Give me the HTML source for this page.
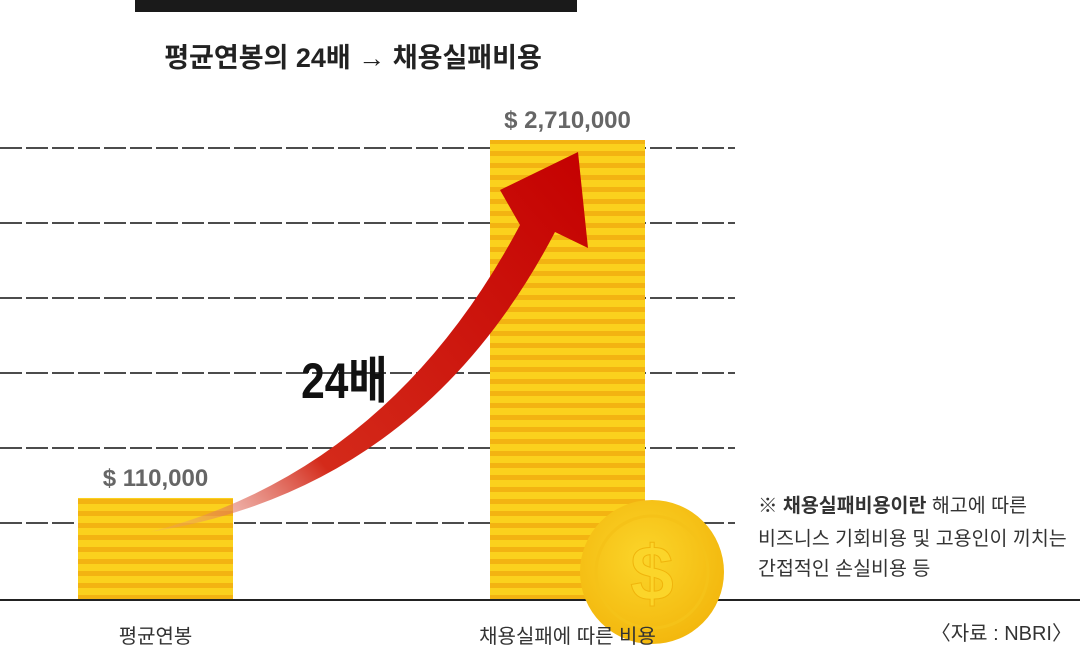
<!DOCTYPE html>
<html><head><meta charset="utf-8"><style>
body{margin:0;width:1080px;height:651px;background:#fff;overflow:hidden;font-family:"Liberation Sans","Noto Sans CJK KR",sans-serif}
svg{display:block}
</style></head><body>
<svg width="1080" height="651" id="c">
<defs>
<pattern id="stripes" width="12" height="12" patternUnits="userSpaceOnUse">
<rect width="12" height="12" fill="#f3b312"/><rect width="12" height="7" fill="#fbd11d"/></pattern>
<linearGradient id="ag" x1="150" y1="530" x2="590" y2="150" gradientUnits="userSpaceOnUse">
<stop offset="0" stop-color="#e8a090" stop-opacity="0.2"/><stop offset="0.3" stop-color="#d42a1a"/><stop offset="1" stop-color="#c40000"/></linearGradient>
<radialGradient id="coin" cx="0.45" cy="0.4" r="0.6"><stop offset="0" stop-color="#fbd52a"/><stop offset="1" stop-color="#f3b80e"/></radialGradient>
</defs>
<rect x="135" y="0" width="442" height="12" fill="#1a1a1a"/>
<text x="353" y="67" text-anchor="middle" font-size="27" font-weight="bold" fill="#222">평균연봉의 24배 → 채용실패비용</text>
<g id="grid"></g>
<g id="bars"></g>
<line x1="0" y1="600" x2="1080" y2="600" stroke="#222" stroke-width="2"/>
<path d="M150,532 Q390,470 520,225 L500,190 L578,152 L588,248 L555,232 Q420,490 150,532 Z" fill="url(#ag)"/>
<text x="345" y="398" text-anchor="middle" font-size="50" font-weight="bold" fill="#111" transform="scale(0.85,1) translate(60,0)">24배</text>
<g>
<circle cx="652" cy="572" r="72" fill="url(#coin)"/>
<circle cx="652" cy="572" r="56" fill="none" stroke="#f5c218" stroke-width="3"/>
<text x="652" y="600" text-anchor="middle" font-size="78" font-weight="bold" fill="#fbd52a" stroke="#f0b40c" stroke-width="1">$</text>
</g>
<g id="cats"></g>
<g font-size="19.5" fill="#333">
<text x="758" y="512"><tspan font-weight="bold">※ 채용실패비용이란</tspan> 해고에 따른</text>
<text x="758" y="545">비즈니스 기회비용 및 고용인이 끼치는</text>
<text x="758" y="575">간접적인 손실비용 등</text>
</g>
<text x="1072" y="640" text-anchor="end" font-size="20" fill="#333">〈자료 : NBRI〉</text>
</svg>
<script>
const categories=["평균연봉","채용실패에 따른 비용"];
const values=[110000,2710000];
const valueLabels=["$ 110,000","$ 2,710,000"];
const ns="http://www.w3.org/2000/svg";
const baseY=600, topY=140, maxV=2710000;
function yScale(v){return baseY-(baseY-topY)*Math.pow(v/maxV,0.47);}
const xs=[78,490],bw=155;
const grid=document.getElementById('grid');
[148,223,298,373,448,523].forEach(gy=>{
 const l=document.createElementNS(ns,'line');
 l.setAttribute('x1',0);l.setAttribute('x2',735);l.setAttribute('y1',gy);l.setAttribute('y2',gy);
 l.setAttribute('stroke','#111');l.setAttribute('stroke-width','1.5');l.setAttribute('stroke-dasharray','22,4');
 
 
 grid.appendChild(l);
});
const g=document.getElementById('bars');
const cg=document.getElementById('cats');
values.forEach((v,i)=>{
 const r=document.createElementNS(ns,'rect');
 r.setAttribute('x',xs[i]);r.setAttribute('y',yScale(v));r.setAttribute('width',bw);r.setAttribute('height',baseY-yScale(v));
 r.setAttribute('fill','url(#stripes)');
 
 
 g.appendChild(r);
 const t=document.createElementNS(ns,'text');
 t.setAttribute('x',xs[i]+bw/2);t.setAttribute('y',yScale(v)-12);t.setAttribute('text-anchor','middle');
 t.setAttribute('font-size','24');t.setAttribute('font-weight','bold');t.setAttribute('fill','#666');
 t.textContent=valueLabels[i];
 
 
 g.appendChild(t);
 const c=document.createElementNS(ns,'text');
 c.setAttribute('x',xs[i]+bw/2);c.setAttribute('y',643);c.setAttribute('text-anchor','middle');
 c.setAttribute('font-size','20');c.setAttribute('fill','#333');
 c.textContent=categories[i];
 
 
 cg.appendChild(c);
});
</script>
</body></html>
